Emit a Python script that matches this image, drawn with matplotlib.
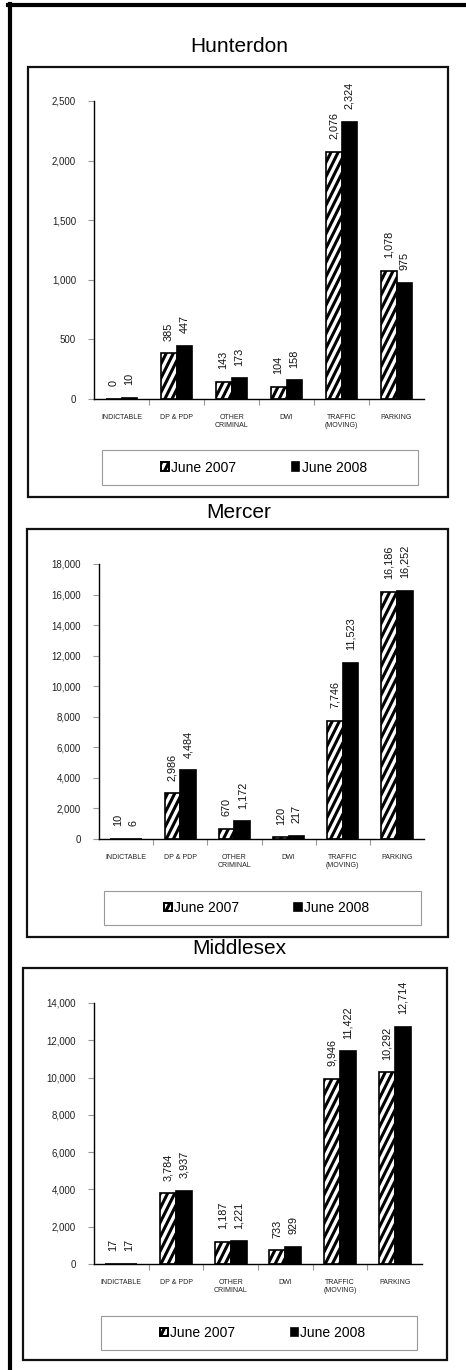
import matplotlib
matplotlib.use("Agg")
import matplotlib.pyplot as plt
import matplotlib.hatch as mhatch
from matplotlib.path import Path
from matplotlib.patches import Rectangle, Patch
from matplotlib.lines import Line2D
from matplotlib.ticker import FuncFormatter, MultipleLocator, FixedLocator
import numpy as np


class SteepHatch(mhatch.HatchPatternBase):
    """Steep diagonal stripes (slope 2) used for '/' hatches."""
    def __init__(self, hatch, density):
        n = hatch.count('/')
        self.n = 14 * n if n else 0
        self.num_lines = int(1.5 * self.n) + 1 if n else 0
        self.num_vertices = self.num_lines * 2

    def set_vertices_and_codes(self, vertices, codes):
        a = np.arange(self.num_lines) / self.n - 0.5
        vertices[0::2, 0] = a
        vertices[0::2, 1] = 0.0
        vertices[1::2, 0] = a + 0.5
        vertices[1::2, 1] = 1.0
        codes[0::2] = Path.MOVETO
        codes[1::2] = Path.LINETO


mhatch._hatch_types = [SteepHatch if t is mhatch.NorthEastHatch else t for t in mhatch._hatch_types]

plt.rcParams['font.family'] = ['Liberation Sans', 'DejaVu Sans']
plt.rcParams['hatch.linewidth'] = 2.2

categories = ["INDICTABLE", "DP & PDP", "OTHER\nCRIMINAL", "DWI", "TRAFFIC\n(MOVING)", "PARKING"]
series_names = ["June 2007", "June 2008"]

counties = ["Hunterdon", "Mercer", "Middlesex"]
hunterdon_2007 = [0, 385, 143, 104, 2076, 1078]
hunterdon_2008 = [10, 447, 173, 158, 2324, 975]
mercer_2007 = [10, 2986, 670, 120, 7746, 16186]
mercer_2008 = [6, 4484, 1172, 217, 11523, 16252]
middlesex_2007 = [17, 3784, 1187, 733, 9946, 10292]
middlesex_2008 = [17, 3937, 1221, 929, 11422, 12714]

y_max = [2500, 18000, 14000]
y_step = [500, 2000, 2000]

W, H = 466, 1370
fig = plt.figure(figsize=(W / 100, H / 100), dpi=100)


def fx(x):
    return x / W


def fy(y):
    return 1 - y / H


# panel layout in pixels
layouts = [
    dict(title_y=46, box=(28, 67, 448, 497), ax=(94, 101, 424, 399), leg=(102, 450, 418, 485)),
    dict(title_y=512, box=(27, 529, 448, 937), ax=(99, 564, 424, 839), leg=(104, 891, 421, 925)),
    dict(title_y=949, box=(23, 968, 447, 1360), ax=(94, 1003, 422, 1264), leg=(101, 1316, 417, 1350)),
]

data = [(hunterdon_2007, hunterdon_2008), (mercer_2007, mercer_2008), (middlesex_2007, middlesex_2008)]

# outer border (left and top)
fig.add_artist(Line2D([fx(9.5), fx(9.5)], [fy(4), fy(1370)], color='black', lw=3, transform=fig.transFigure))
fig.add_artist(Line2D([fx(8), fx(466)], [fy(5), fy(5)], color='black', lw=3, transform=fig.transFigure))

fmt = FuncFormatter(lambda v, p: f"{int(v):,}")
bw = 0.29
x = np.arange(len(categories))

for i, (name, lay) in enumerate(zip(counties, layouts)):
    # panel box
    x0, y0, x1, y1 = lay['box']
    fig.add_artist(Rectangle((fx(x0), fy(y1)), fx(x1 - x0), (y1 - y0) / H, fill=False,
                             edgecolor='#111111', lw=1.6, transform=fig.transFigure))
    fig.text(fx(239), fy(lay['title_y']), name, ha='center', va='center', fontsize=15)

    a0, a1, a2, a3 = lay['ax']
    ax = fig.add_axes([fx(a0), fy(a3), fx(a2 - a0), (a3 - a1) / H])
    v07, v08 = data[i]
    b1 = ax.bar(x - bw / 2, v07, bw, facecolor='white', edgecolor='black', hatch='/', lw=1.2)
    b2 = ax.bar(x + bw / 2, v08, bw, facecolor='black', edgecolor='black', lw=1.2)
    for bars, vals in ((b1, v07), (b2, v08)):
        for r, v in zip(bars, vals):
            ax.annotate(f"{v:,}", (r.get_x() + r.get_width() / 2, v), xytext=(0, 9),
                        textcoords='offset points', rotation=90, ha='center', va='bottom',
                        fontsize=7.8, color='#111111')
    ax.set_xlim(-0.5, len(categories) - 0.5)
    ax.set_ylim(0, y_max[i])
    ax.yaxis.set_major_locator(MultipleLocator(y_step[i]))
    ax.yaxis.set_major_formatter(fmt)
    ax.set_xticks(x)
    ax.set_xticklabels(categories, fontsize=5, multialignment='center', color='#222222')
    ax.xaxis.set_minor_locator(FixedLocator(np.arange(0.5, len(categories) - 0.5, 1.0)))
    ax.tick_params(axis='x', which='major', length=0, pad=11)
    ax.tick_params(axis='x', which='minor', length=4, color='#999999', width=0.8)
    ax.tick_params(axis='y', length=4, color='#999999', width=0.8, pad=9, labelsize=7,
                   labelcolor='#222222')
    for s in ('top', 'right'):
        ax.spines[s].set_visible(False)
    ax.spines['left'].set_linewidth(1.0)
    ax.spines['bottom'].set_linewidth(1.0)
    ax.set_facecolor('none')

    # legend
    l0, t0, l1, t1 = lay['leg']
    fig.add_artist(Rectangle((fx(l0), fy(t1)), fx(l1 - l0), (t1 - t0) / H, fill=False,
                             edgecolor='#999999', lw=0.8, transform=fig.transFigure))
    handles = [Patch(facecolor='white', edgecolor='black', hatch='/', lw=1.4, label=series_names[0]),
               Patch(facecolor='black', edgecolor='black', lw=1.2, label=series_names[1])]
    fig.legend(handles=handles, loc='center', bbox_to_anchor=(fx((l0 + l1) / 2 + 4), fy((t0 + t1) / 2)),
               ncol=2, frameon=False, fontsize=10, handlelength=0.55, handleheight=0.55,
               handletextpad=0.15, columnspacing=4.0, borderpad=0)

fig.savefig("out.png", dpi=100)
